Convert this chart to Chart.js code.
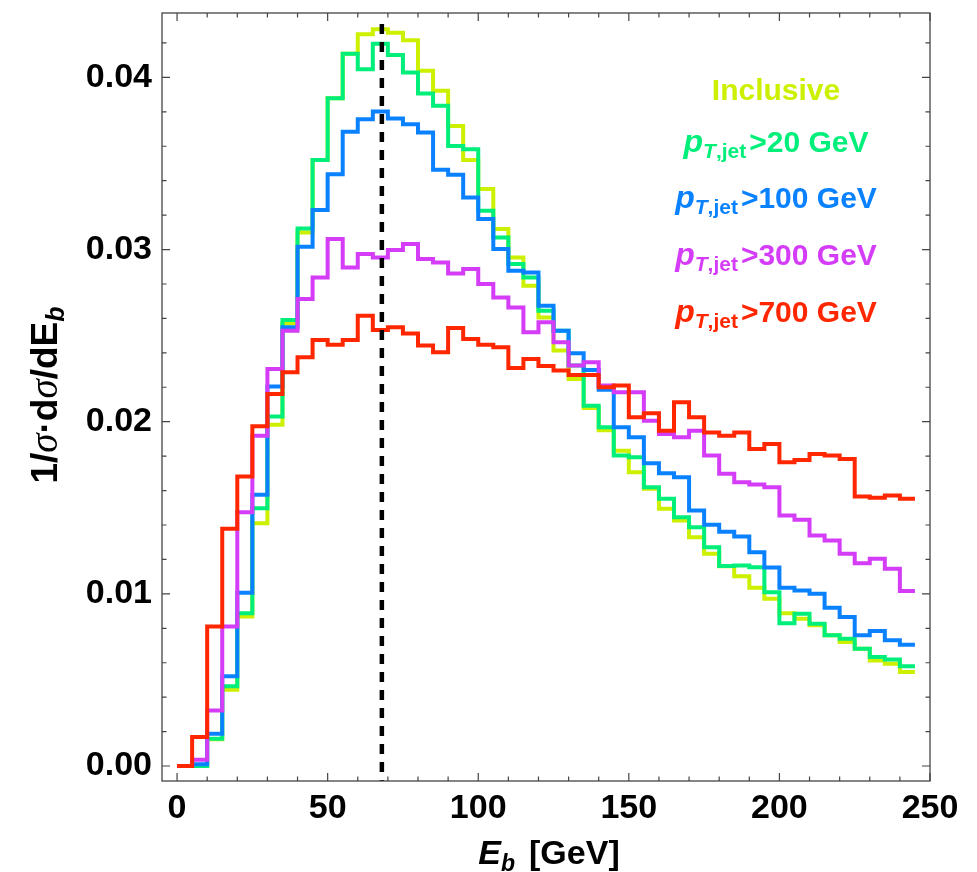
<!DOCTYPE html>
<html><head><meta charset="utf-8">
<script src="https://cdn.jsdelivr.net/npm/chart.js@4.4.0/dist/chart.umd.min.js"></script>
<style>html,body{margin:0;padding:0;background:#fff;}canvas{display:block;}</style>
</head><body>
<canvas id="c" width="977" height="872"></canvas>
<script>
// ---- data (bin edges in GeV, normalized distributions per 5 GeV bin) ----
const binEdges = [0,5,10,15,20,25,30,35,40,45,50,55,60,65,70,75,80,85,90,95,100,105,110,115,120,125,130,135,140,145,150,155,160,165,170,175,180,185,190,195,200,205,210,215,220,225,230,235,240,245];
const inclusive = [0,0,0.00155,0.00443,0.00869,0.0141,0.01983,0.02571,
  0.03099,0.0352,0.03879,0.04138,0.04251,0.0428,0.0426,0.04216,
  0.04038,0.03922,0.03718,0.0352,0.03351,0.03119,0.02954,0.0279,
  0.02606,0.02413,0.02248,0.0208,0.0195,0.01832,0.01706,0.0161,
  0.01494,0.01426,0.01329,0.01233,0.0116,0.01102,0.01035,0.00971,
  0.00888,0.00855,0.00817,0.00759,0.0072,0.00681,0.00613,0.00594,
  0.00546];
const pt20 = [0,0,0.00159,0.00463,0.00888,0.01498,0.0203,0.02591,
  0.03122,0.0352,0.03879,0.04138,0.04047,0.04196,0.0413,0.04028,
  0.03906,0.03835,0.03602,0.03583,0.03225,0.0307,0.02916,0.02838,
  0.02645,0.02529,0.02326,0.02093,0.01968,0.01803,0.01793,0.01619,
  0.01552,0.01445,0.01387,0.01271,0.01162,0.01165,0.01155,0.0101,
  0.0083,0.00884,0.00826,0.00759,0.00739,0.00681,0.00633,0.00619,
  0.00579];
const pt100 = [0,0.0001,0.00188,0.00521,0.01006,0.01575,0.02204,0.02548,
  0.03016,0.03229,0.03438,0.03684,0.03757,0.03802,0.03761,0.03728,
  0.0368,0.03464,0.03434,0.03302,0.03177,0.03003,0.02877,0.02867,
  0.02674,0.02529,0.02397,0.023,0.02185,0.01968,0.0191,0.01759,
  0.017,0.01677,0.01484,0.01402,0.01361,0.01333,0.01242,0.01153,
  0.01035,0.0102,0.01,0.00919,0.00865,0.00759,0.00784,0.0073,
  0.00705];
const pt300 = [0,0.00037,0.00323,0.00811,0.01474,0.01919,0.02306,0.02529,
  0.02713,0.02838,0.03061,0.02896,0.02974,0.02954,0.02997,0.03032,
  0.02945,0.02925,0.02861,0.02887,0.028,0.02722,0.02664,0.02519,
  0.02577,0.02461,0.02326,0.02345,0.0221,0.02171,0.02171,0.02006,
  0.01929,0.0191,0.01948,0.01803,0.01697,0.01648,0.01635,0.01619,
  0.01455,0.0143,0.01339,0.0131,0.01233,0.01178,0.01204,0.01146,
  0.01016];
const pt700 = [0,0.00168,0.00811,0.01378,0.01681,0.01973,0.02161,0.02287,
  0.02374,0.02475,0.02447,0.02475,0.02616,0.02533,0.02548,0.02513,
  0.02442,0.02403,0.02544,0.02481,0.02447,0.02432,0.02312,0.02364,
  0.02324,0.02297,0.02272,0.02272,0.022,0.0221,0.02026,0.02049,
  0.01948,0.02113,0.02026,0.01938,0.01919,0.01938,0.01842,0.01871,
  0.01764,0.01778,0.01813,0.01803,0.01784,0.01565,0.01558,0.01571,
  0.01552];
const peakE = 68;            // dashed reference line position [GeV]
const peakLineTop = 0.0431;
const xLabelTicks = [0,50,100,150,200,250];
const yLabelTicks = [0,0.01,0.02,0.03,0.04];
const xMinorTicks = [0,10,20,30,40,50,60,70,80,90,100,110,120,130,140,150,160,170,180,190,200,210,220,230,240,250];
const yMinorTicks = [0,0.002,0.004,0.006,0.008,0.01,0.012,0.014,0.016,0.018,0.02,0.022,0.024,0.026,0.028,0.03,0.032,0.034,0.036,0.038,0.04,0.042];
const seriesNames = ['Inclusive','20','100','300','700'];
const X_MIN = -5, X_MAX = 250, Y_MIN = -0.00087, Y_MAX = 0.04374;

const COLORS = ['#cdf000','#00ee7a','#0a82ff','#d43cf8','#ff2600'];
const FONT = '"Liberation Sans", Arial, Helvetica, sans-serif';
const SERIF = '"Liberation Serif", "DejaVu Serif", serif';

function stepPoints(vals){
  const pts = vals.map((v,i)=>({x:binEdges[i], y:v}));
  pts.push({x:binEdges[vals.length], y:vals[vals.length-1]});
  return pts;
}
const allSeries = [inclusive, pt20, pt100, pt300, pt700];
const datasets = allSeries.map((vals,i)=>({
  label: seriesNames[i], data: stepPoints(vals), borderColor: COLORS[i],
  borderWidth: 4, stepped: 'before', pointRadius: 0, fill: false,
  borderJoinStyle: 'miter', borderCapStyle: 'butt', order: 5 - i
}));
datasets.push({label:'peak', data:[{x:peakE,y:peakLineTop},{x:peakE,y:Y_MIN}],
  borderColor:'#000', borderWidth:4.5, borderDash:[10,8], pointRadius:0, fill:false, order:-1});

function drawRich(ctx, segs, cx, base){
  let w = 0;
  for (const s of segs){ ctx.font = s.f; w += ctx.measureText(s.t).width + (s.gap||0); }
  let x = cx - w/2;
  for (const s of segs){ ctx.font = s.f; ctx.fillText(s.t, x, base + (s.dy||0)); x += ctx.measureText(s.t).width + (s.gap||0); }
}

const decor = {
  id: 'decor',
  afterDatasetsDraw(chart){
    const {ctx, chartArea:a, scales:{x,y}} = chart;
    ctx.save();
    ctx.strokeStyle = '#444'; ctx.lineWidth = 1.3;
    ctx.strokeRect(a.left, a.top, a.right-a.left, a.bottom-a.top);
    ctx.lineWidth = 1.2; ctx.beginPath();
    for (const v of xMinorTicks){
      const px = x.getPixelForValue(v); const L = (v % 50 === 0) ? 8 : 4.5;
      ctx.moveTo(px, a.bottom); ctx.lineTo(px, a.bottom - L);
      ctx.moveTo(px, a.top); ctx.lineTo(px, a.top + L);
    }
    for (const v of yMinorTicks){
      const py = y.getPixelForValue(v);
      const major = Math.abs(v/0.01 - Math.round(v/0.01)) < 1e-6; const L = major ? 8 : 4.5;
      ctx.moveTo(a.left, py); ctx.lineTo(a.left + L, py);
      ctx.moveTo(a.right, py); ctx.lineTo(a.right - L, py);
    }
    ctx.stroke();

    // legend text
    ctx.textAlign = 'left'; ctx.textBaseline = 'alphabetic';
    const big = 'bold 30px ' + FONT, bigI = 'italic bold 32px ' + FONT;
    const sub = 'bold 21px ' + FONT, subI = 'italic bold 21px ' + FONT;
    const cx = 776;
    ctx.fillStyle = COLORS[0];
    drawRich(ctx, [{t:'Inclusive', f:big}], cx, 100);
    const bases = [152, 208, 265, 322];
    for (let i=1;i<5;i++){
      ctx.fillStyle = COLORS[i];
      drawRich(ctx, [{t:'p', f:bigI}, {t:'T', f:subI, dy:6}, {t:',jet', f:sub, dy:6, gap:3},
        {t:'>' + seriesNames[i] + ' GeV', f:big}], cx, bases[i-1]);
    }

    // axis titles
    ctx.fillStyle = '#000';
    const tf = 'bold 34px ' + FONT, tfi = 'italic bold 34px ' + FONT, tsub = 'italic bold 23px ' + FONT;
    drawRich(ctx, [{t:'E', f:tfi}, {t:'b', f:tsub, dy:7, gap:14}, {t:'[GeV]', f:tf}], 549, 864);
    ctx.save();
    ctx.translate(57, 395); ctx.rotate(-Math.PI/2);
    const tf2 = 'bold 37px ' + FONT, tsub2 = 'italic bold 25px ' + FONT;
    const sg = 'italic 39px ' + SERIF;
    drawRich(ctx, [{t:'1/', f:tf2}, {t:'σ', f:sg}, {t:'·d', f:tf2}, {t:'σ', f:sg}, {t:'/dE', f:tf2}, {t:'b', f:tsub2, dy:7}], 0, 0);
    ctx.restore();
    ctx.restore();
  }
};

function noPad(s){ s.paddingTop = 0; s.paddingBottom = 0; s.paddingLeft = 0; s.paddingRight = 0; }

new Chart(document.getElementById('c'), {
  type: 'line',
  data: { datasets },
  options: {
    responsive: false, animation: false, devicePixelRatio: 1,
    layout: { padding: { top: 13, right: 47, left: 0, bottom: 0 } },
    plugins: { legend: { display: false }, tooltip: { enabled: false } },
    scales: {
      x: { type: 'linear', min: X_MIN, max: X_MAX,
        afterBuildTicks: s => { s.ticks = xLabelTicks.map(v => ({value: v})); },
        afterFit: s => { s.height = 91; noPad(s); },
        grid: { display: false, drawTicks: false, tickLength: 0 }, border: { display: false },
        ticks: { autoSkip: false, maxRotation: 0, minRotation: 0, padding: 7, color: '#000',
          font: { family: FONT, size: 34, weight: 'bold' }, callback: v => String(v) } },
      y: { type: 'linear', min: Y_MIN, max: Y_MAX,
        afterBuildTicks: s => { s.ticks = yLabelTicks.map(v => ({value: v})); },
        afterFit: s => { s.width = 162; noPad(s); },
        grid: { display: false, drawTicks: false, tickLength: 0 }, border: { display: false },
        ticks: { padding: 10, color: '#000', font: { family: FONT, size: 34, weight: 'bold' },
          callback: v => Number(v).toFixed(2) } }
    }
  },
  plugins: [decor]
});
</script>
</body></html>
